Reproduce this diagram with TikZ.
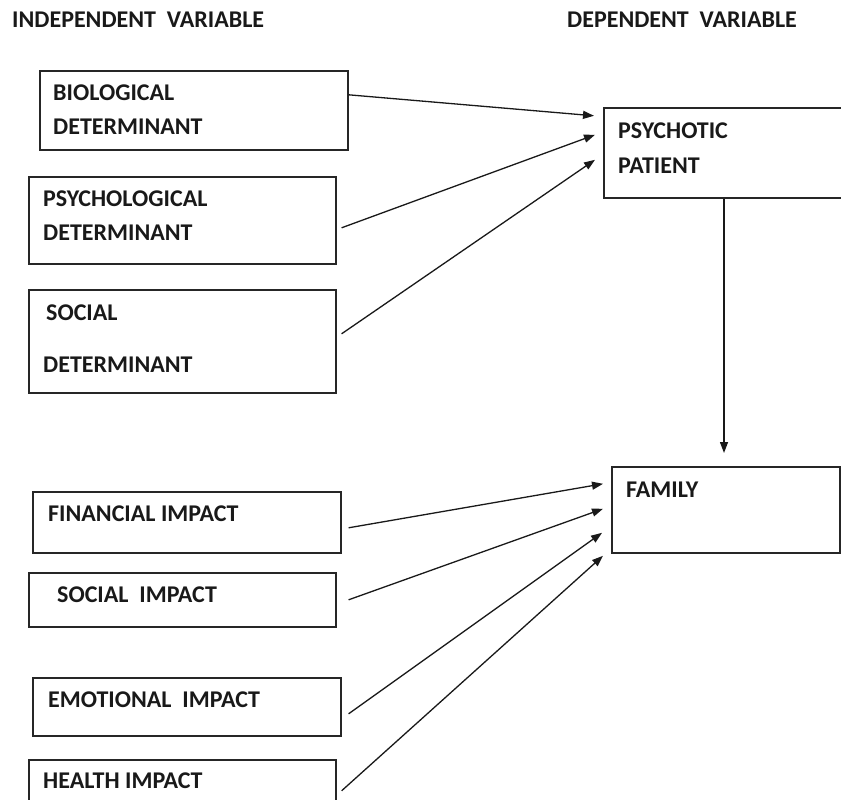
\documentclass[tikz,border=0pt]{standalone}
\usepackage{fontspec}
\setmainfont{Carlito}
\usetikzlibrary{arrows.meta,calc}
\tikzset{
  box/.style={draw=black!85, line width=1.6pt, rectangle, inner sep=0pt, anchor=north west},
  lbl/.style={anchor=base west, inner sep=0pt, font=\fontsize{24}{28}\selectfont\bfseries, text=black!90},
  arr/.style={line width=1.3pt, draw=black!90, -{Triangle[length=11pt,width=8pt]}},
}
\begin{document}
\begin{tikzpicture}[x=1pt,y=-1pt]
\useasboundingbox (0,0) rectangle (841,800);
\clip (0,0) rectangle (841,800);
% headers
\node[lbl] (hind) at (12,28) {INDEPENDENT\ \ VARIABLE};
\node[lbl] (hdep) at (567,28) {DEPENDENT\ \ VARIABLE};
% boxes
\node[box, minimum width=308pt, minimum height=79pt] (bio) at (39,70) {};
\node[box, minimum width=307pt, minimum height=87pt] (psy) at (28,176) {};
\node[box, minimum width=307pt, minimum height=103pt] (soc) at (28,289) {};
\node[box, minimum width=260pt, minimum height=90pt] (pat) at (603,107) {};
\node[box, minimum width=228pt, minimum height=86pt] (fam) at (611,466) {};
\node[box, minimum width=308pt, minimum height=61pt] (fin) at (32,491) {};
\node[box, minimum width=307pt, minimum height=54pt] (sim) at (28,572) {};
\node[box, minimum width=308pt, minimum height=58pt] (emo) at (32,677) {};
\node[box, minimum width=307pt, minimum height=61pt] (hea) at (28,759) {};
% texts
\node[lbl] (t1a) at (53,100) {BIOLOGICAL};
\node[lbl] (t1b) at (53,134) {DETERMINANT};
\node[lbl] (t2a) at (43,206) {PSYCHOLOGICAL};
\node[lbl] (t2b) at (43,240) {DETERMINANT};
\node[lbl] (t3a) at (46,320) {SOCIAL};
\node[lbl] (t3b) at (43,372) {DETERMINANT};
\node[lbl] (t4a) at (618,138) {PSYCHOTIC};
\node[lbl] (t4b) at (618,173) {PATIENT};
\node[lbl] (t5) at (626,497) {FAMILY};
\node[lbl] (t6) at (48,521) {FINANCIAL IMPACT};
\node[lbl] (t7) at (57,602) {SOCIAL\ \ IMPACT};
\node[lbl] (t8) at (48,707) {EMOTIONAL\ \ IMPACT};
\node[lbl] (t9) at (43,788) {HEALTH IMPACT};
% arrows to patient
\draw[arr] ([yshift=15.5pt]bio.east) -- ([xshift=-9pt,yshift=37pt]pat.west);
\draw[arr] ([xshift=5pt,yshift=-7.5pt]psy.east) -- ([xshift=-8pt,yshift=18pt]pat.west);
\draw[arr] ([xshift=5pt,yshift=7.5pt]soc.east) -- ([xshift=-8pt,yshift=-7pt]pat.west);
% patient to family
\draw[arr, shorten >=13pt] ([xshift=121pt]pat.south west) -- ([xshift=113pt]fam.north west);
% arrows to family
\draw[arr] ([xshift=7pt,yshift=-5.5pt]fin.east) -- ([xshift=-8pt,yshift=26pt]fam.west);
\draw[arr] ([xshift=12pt]sim.east) -- ([xshift=-8pt,yshift=1pt]fam.west);
\draw[arr] ([xshift=7pt,yshift=-7pt]emo.east) -- ([xshift=-9pt,yshift=-23pt]fam.west);
\draw[arr] ([xshift=5pt,yshift=-0.5pt]hea.east) -- ([xshift=-8pt,yshift=-46pt]fam.west);
\end{tikzpicture}
\end{document}
